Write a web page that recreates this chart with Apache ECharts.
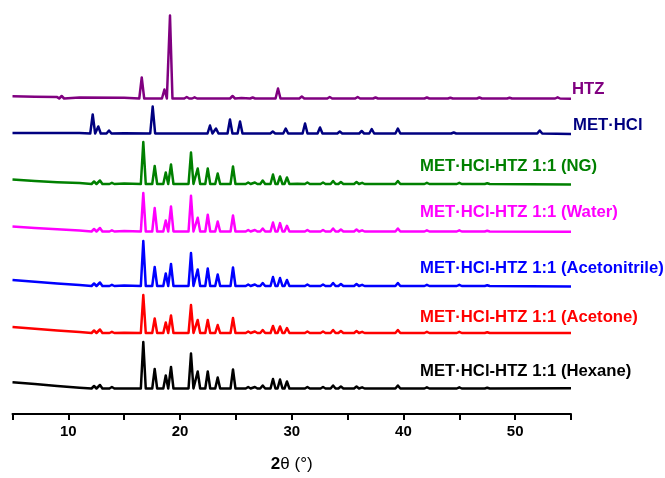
<!DOCTYPE html>
<html>
<head>
<meta charset="utf-8">
<script src="https://cdn.jsdelivr.net/npm/echarts@6/dist/echarts.min.js"></script>
<style>html,body{margin:0;padding:0;background:#fff;}#c{width:665px;height:478px;}</style>
</head>
<body>
<div id="c"></div>
<script>
// ---- data (2θ in degrees, intensity in arbitrary units) ----
const seriesNames = ['HTZ', 'MET·HCl', 'MET·HCl-HTZ 1:1 (NG)', 'MET·HCl-HTZ 1:1 (Water)',
  'MET·HCl-HTZ 1:1 (Acetonitrile)', 'MET·HCl-HTZ 1:1 (Acetone)', 'MET·HCl-HTZ 1:1 (Hexane)'];
const offsets = [315.5, 280.5, 230, 182.5, 128, 81, 25.5];
const xTickLabels = [10, 20, 30, 40, 50];

// baseline (background) points [2θ, intensity]
const baseHTZ = [[5,2.2],[7,1.8],[9,1.4],[11,1],[15,0.8],[25.5,0.4],[40,0],[55,-0.3]];
const baseMET = [[5,0.6],[9,0.5],[11,0.4],[15,0.3],[30.5,0],[55,-0.4]];
const baseNG = [[5,4.5],[7,3],[9,1.8],[11,0.9],[15,0.6],[30.5,0.3],[55,-0.6]];
const baseWater = [[5,5],[7,3.6],[9,2.2],[11,1],[15,0.4],[30.5,0],[55,-0.3]];
const baseAcn = [[5,6],[7,4.2],[9,2.4],[11,1],[15,0.4],[30.5,0],[55,-0.6]];
const baseAcetone = [[5,6],[7,4.2],[9,2.4],[11,1],[15,0.2],[30.5,0],[55,0]];
const baseHexane = [[5,6.3],[7,4.6],[9,2.6],[11,0.8],[15,0],[30.5,0],[55,0.3]];

// peaks [2θ, height above baseline]
const peaksHTZ = [[9.4,2.5],[16.57,21],[18.6,9],[19.1,83],[20.6,1.5],[21.3,1.2],[24.7,2.5],[26.5,1],
  [28.77,10],[30.9,2],[33.4,1.5],[35.9,1.5],[37.5,1],[42.1,1],[44.2,0.8],[46.8,1],[49.5,0.8],[53.8,1.2]];
const peaksMET = [[12.18,19],[12.68,7],[13.64,3],[17.55,27],[22.68,8],[23.22,5],[24.47,14],[25.37,12],
  [28.3,2],[29.46,5],[31.19,10],[32.53,6],[34.3,2],[36.26,2.5],[37.16,4.5],[39.5,5],[44.5,1],[52.2,3]];
const peaksNG = [[12.3,2.5],[12.83,3.5],[13.9,1.2],[16.71,42],[17.73,18],[18.72,11.5],[19.19,19.5],
  [20.98,31.5],[21.58,15.5],[22.48,15.5],[23.37,10.5],[24.74,17.5],[26.1,1.5],[26.7,1.5],[27.4,3.5],
  [28.32,9.5],[28.95,7.5],[29.57,6.5],[31.4,1.5],[32.8,1.5],[33.7,3],[34.4,2],[35.8,2],[36.3,1.2],
  [39.5,3],[42.1,1.2],[45,1.2],[47.5,0.8]];
const peaksWater = [[12.3,2.5],[12.83,3.5],[13.9,1.2],[16.71,38.5],[17.73,23.4],[18.72,11],[19.19,25],
  [20.98,35.7],[21.58,13.7],[22.48,16.7],[23.37,10],[24.74,16],[26.1,1.5],[26.7,1.5],[27.4,3],
  [28.32,9],[28.95,8.4],[29.57,5.7],[31.4,1.5],[32.8,1.5],[33.7,3],[34.4,2],[35.8,2],[36.3,1.2],
  [39.5,3],[42.1,1.2],[45,1.2],[47.5,0.8]];
const peaksAcn = [[12.3,2.5],[12.83,3.5],[13.9,1.2],[16.71,45],[17.73,19],[18.72,12.5],[19.19,22],
  [20.98,33],[21.58,16.5],[22.48,17.5],[23.37,11.5],[24.74,18.5],[26.1,1.5],[26.7,1.5],[27.4,3],
  [28.32,9],[28.95,8],[29.57,6],[31.4,1.5],[32.8,1.5],[33.7,3],[34.4,2],[35.8,2],[36.3,1.2],
  [39.5,3],[42.1,1.2],[45,1.2],[47.5,0.8]];
const peaksAcetone = [[12.3,2.5],[12.83,3.5],[13.9,1.2],[16.71,38],[17.73,14.5],[18.72,10.5],[19.19,17.5],
  [20.98,28],[21.58,13],[22.48,13],[23.37,8],[24.74,15],[26.1,1.5],[26.7,1.5],[27.4,3],
  [28.32,7],[28.95,6.5],[29.57,5],[31.4,1.5],[32.8,1.5],[33.7,3],[34.4,2],[35.8,2],[36.3,1.2],
  [39.5,3],[42.1,1.2],[45,1.2],[47.5,0.8]];
const peaksHexane = [[12.3,2.5],[12.83,3.5],[13.9,1.5],[16.71,46.5],[17.73,19.5],[18.72,13],[19.19,21.5],
  [20.98,35],[21.58,17],[22.48,17],[23.37,11],[24.74,19],[26.1,1.5],[26.7,1.5],[27.4,3],
  [28.32,9.5],[28.95,9],[29.57,7],[31.4,1.5],[32.8,1.5],[33.7,3],[34.4,2],[35.8,2],[36.3,1.2],
  [39.5,3],[42.1,1.2],[45,1.2],[47.5,0.8]];

const colors = ['#800080', '#000080', '#008000', '#ff00ff', '#0000ff', '#ff0000', '#000000'];
const bases = [baseHTZ, baseMET, baseNG, baseWater, baseAcn, baseAcetone, baseHexane];
const peaks = [peaksHTZ, peaksMET, peaksNG, peaksWater, peaksAcn, peaksAcetone, peaksHexane];

// peak drawn as a narrow profile: foot - apex - foot
const halfWidth = 0.22;
function buildTrace(base, pk, off) {
  const pts = base.map(p => [p[0], p[1] + off]);
  pk.forEach(p => {
    pts.push([p[0] - halfWidth, off]);
    pts.push([p[0], p[1] + off]);
    pts.push([p[0] + halfWidth, off]);
  });
  pts.sort((a, b) => a[0] - b[0]);
  return pts;
}

const labelPos = [[572, 89], [573, 125], [420, 166], [420, 212], [420, 268], [420, 317], [420, 371]];
const FONT = '"Liberation Sans", Arial, sans-serif';

const chart = echarts.init(document.getElementById('c'), null, {renderer: 'canvas'});
chart.setOption({
  backgroundColor: '#ffffff',
  animation: false,
  grid: {left: 12.5, right: 94, top: 10, bottom: 64, containLabel: false},
  xAxis: {
    type: 'value', min: 5, max: 55, interval: 5,
    axisLine: {show: true, onZero: false, lineStyle: {color: '#000', width: 2}},
    axisTick: {show: true, inside: false, length: 6, lineStyle: {color: '#000', width: 2}},
    axisLabel: {
      margin: 10, color: '#000', fontWeight: 'bold', fontSize: 15, fontFamily: FONT,
      formatter: v => (xTickLabels.indexOf(v) >= 0 ? String(v) : '')
    },
    splitLine: {show: false},
    name: '{b|2}θ (°)', nameLocation: 'middle', nameGap: 42,
    nameTextStyle: {color: '#000', fontSize: 17, fontFamily: FONT,
      rich: {b: {fontWeight: 'bold', fontSize: 17, fontFamily: FONT, color: '#000'}}}
  },
  yAxis: {type: 'value', min: 0, max: 404, show: false, splitLine: {show: false}},
  series: seriesNames.map((n, i) => ({
    name: n, type: 'line', showSymbol: false, symbol: 'none',
    data: buildTrace(bases[i], peaks[i], offsets[i]),
    lineStyle: {color: colors[i], width: 2.5, join: 'round'}, itemStyle: {color: colors[i]},
    z: 2 + i
  })),
  graphic: seriesNames.map((n, i) => ({
    type: 'text', x: labelPos[i][0], y: labelPos[i][1],
    style: {text: n, fill: colors[i], font: 'bold 16.7px ' + FONT, verticalAlign: 'middle', align: 'left'}
  }))
});
</script>
</body>
</html>
